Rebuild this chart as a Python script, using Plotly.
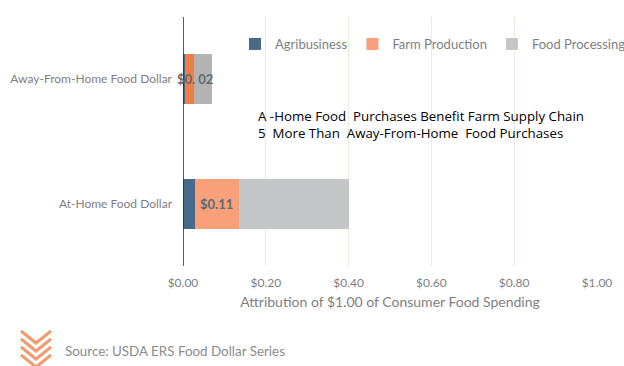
import plotly.graph_objects as go

categories = ["At-Home Food Dollar", "Away-From-Home Food Dollar"]
series_names = ["Agribusiness", "Farm Production", "Food Processing"]
agribusiness = [0.028, 0.004]
farm_production = [0.107, 0.022]
food_processing = [0.265, 0.044]
farm_labels = ["$0.11", "$0. 02"]
tick_vals = [0, 0.2, 0.4, 0.6, 0.8, 1.0]
tick_text = ["$0.00", "$0.20", "$0.40", "$0.60", "$0.80", "$1.00"]

FONT = "Lato"
GRAY = "#7f7f7f"

fig = go.Figure()
fig.add_trace(go.Bar(y=categories, x=agribusiness, name=series_names[0], orientation="h",
                     marker=dict(color=["#4A6A8C", "#44678A"], line=dict(width=0)), width=0.4))
fig.add_trace(go.Bar(y=categories, x=farm_production, name=series_names[1], orientation="h",
                     marker=dict(color=["#F7A07A", "#F47D44"], line=dict(width=0)), width=0.4))
fig.add_trace(go.Bar(y=categories, x=food_processing, name=series_names[2], orientation="h",
                     marker=dict(color=["#C5C6C7", "#B3B3B3"], line=dict(width=0)), width=0.4))

# data labels on farm production segment
shifts = [0, 6]
for i, cat in enumerate(categories):
    fig.add_annotation(x=agribusiness[i] + farm_production[i] / 2, y=cat, text="<b>" + farm_labels[i] + "</b>",
                       showarrow=False, xshift=shifts[i], font=dict(family=FONT, size=13, color="#5f6a72"))

fig.add_annotation(xref="paper", yref="paper", x=(256 - 183) / 414, y=(266 - 125) / 249, xanchor="left",
                   yanchor="middle", align="left", showarrow=False,
                   text="A -Home Food  Purchases Benefit Farm Supply Chain<br>5  More Than  Away-From-Home  Food Purchases",
                   font=dict(family="Open Sans", size=13.3, color="#000000"))

fig.add_annotation(xref="paper", yref="paper", x=(63 - 183) / 414, y=(266 - 351) / 249, xanchor="left",
                   yanchor="middle", showarrow=False, text="Source: USDA ERS Food Dollar Series",
                   font=dict(family=FONT, size=13.4, color="#8c8c8c"))

# logo chevrons
def px(xp):
    return (xp - 183) / 414

def py(yp):
    return (266 - yp) / 249

for k in range(4):
    y0 = 331 + k * 8
    fig.add_shape(type="path", xref="paper", yref="paper",
                  path=f"M {px(21)} {py(y0)} L {px(36)} {py(y0 + 12)} L {px(51)} {py(y0)}",
                  line=dict(color="#F49A6C", width=3))

fig.update_layout(
    width=624, height=366,
    margin=dict(l=183, r=27, t=17, b=100, autoexpand=False),
    barmode="stack",
    plot_bgcolor="white", paper_bgcolor="white",
    showlegend=True,
    legend=dict(orientation="h", xref="container", yref="container", x=235 / 624, y=1 - 44 / 366,
                xanchor="left", yanchor="middle",
                font=dict(family=FONT, size=13, color=GRAY), itemsizing="constant",
                itemwidth=30, tracegroupgap=0,
                bgcolor="rgba(0,0,0,0)", traceorder="normal"),
    xaxis=dict(range=[0, 1.0], tickvals=tick_vals, ticktext=tick_text, showgrid=True, automargin=False,
               gridcolor="#E4EFDD", gridwidth=1, zeroline=False, showline=False,
               tickfont=dict(family=FONT, size=12, color=GRAY), ticks="", ticklabelstandoff=8,
               title=dict(text="Attribution of $1.00 of Consumer Food Spending",
                          font=dict(family=FONT, size=14, color=GRAY), standoff=8)),
    yaxis=dict(showgrid=False, showline=False, ticks="", range=[-0.5, 1.5], automargin=False,
               tickfont=dict(family=FONT, size=12, color=GRAY), ticklabelstandoff=10),
    font=dict(family=FONT),
)
fig.add_vline(x=0, line=dict(color="#262626", width=1.5))

fig.write_html("out.html", config={"displayModeBar": False},
               post_script="document.body.style.margin='0';document.body.style.padding='0';")
